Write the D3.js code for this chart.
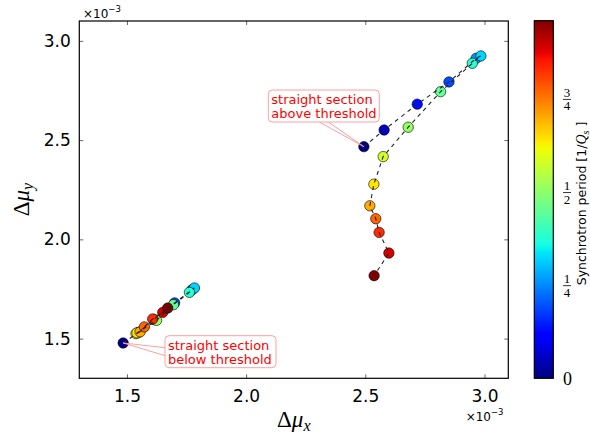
<!DOCTYPE html>
<html>
<head>
<meta charset="utf-8">
<script src="https://cdn.jsdelivr.net/npm/d3@7"></script>
<style>
  body { margin: 0; background: #fff; }
  svg { display: block; }
</style>
</head>
<body>
<svg id="chart" width="590" height="439"></svg>
<script>
// Synchrotron phase of each turn (in units of 1/Q_s), shared by both series
const phase = [0, 0.06, 0.13, 0.19, 0.26, 0.32, 0.38, 0.45, 0.51, 0.58, 0.64, 0.70, 0.77, 0.83, 0.89, 0.96];

// Straight section below threshold (Δμ in units of 1e-3)
const belowX = [1.484, 1.548, 1.612, 1.700, 1.772, 1.783, 1.762, 1.695, 1.624, 1.538, 1.542, 1.555, 1.573, 1.608, 1.650, 1.671];
const belowY = [1.478, 1.531, 1.596, 1.680, 1.745, 1.755, 1.733, 1.671, 1.592, 1.525, 1.529, 1.534, 1.559, 1.599, 1.632, 1.654];

// Straight section above threshold
const aboveX = [2.494, 2.579, 2.718, 2.851, 2.965, 2.985, 2.949, 2.816, 2.680, 2.575, 2.536, 2.519, 2.544, 2.558, 2.599, 2.537];
const aboveY = [2.467, 2.551, 2.681, 2.793, 2.912, 2.924, 2.887, 2.744, 2.565, 2.417, 2.278, 2.169, 2.104, 2.035, 1.931, 1.817];

const axisTicks = [1.5, 2.0, 2.5, 3.0];
const cbTicks = [0, 0.25, 0.5, 0.75];
const cbTickLabels = [["0"], ["1", "4"], ["1", "2"], ["3", "4"]];

const aboveText = ["straight section", "above threshold"];
const belowText = ["straight section", "below threshold"];

// ---------------------------------------------------------------
const svg = d3.select("#chart");
const plot = { left: 79.3, right: 508.3, top: 21, bottom: 378.3 };
const cb = { left: 534.3, right: 553.3, top: 20.7, bottom: 378.3 };
const sans = "'DejaVu Sans', sans-serif";
const serif = "'Liberation Serif', 'DejaVu Serif', serif";

const x = d3.scaleLinear().domain([1.3, 3.1]).range([plot.left, plot.right]);
const y = d3.scaleLinear().domain([1.3, 3.1]).range([plot.bottom, plot.top]);

// jet colour map, channel by channel
const jetR = d3.scaleLinear().domain([0, 0.35, 0.66, 0.89, 1]).range([0, 0, 1, 1, 0.5]).clamp(true);
const jetG = d3.scaleLinear().domain([0, 0.125, 0.375, 0.64, 0.91, 1]).range([0, 0, 1, 1, 0, 0]).clamp(true);
const jetB = d3.scaleLinear().domain([0, 0.11, 0.34, 0.65, 1]).range([0.5, 1, 1, 0, 0]).clamp(true);
const jet = t => d3.rgb(255 * jetR(t), 255 * jetG(t), 255 * jetB(t)).formatHex();

const vmax = d3.max(phase);
const norm = d3.scaleLinear().domain([0, vmax]).range([0, 1]);
const cbScale = d3.scaleLinear().domain([0, vmax]).range([cb.bottom, cb.top]);

// ---------------- axes frame and ticks ----------------
const gx = svg.append("g").attr("transform", `translate(0,${plot.bottom})`)
  .call(d3.axisBottom(x).tickValues(axisTicks).tickFormat(d3.format(".1f")).tickSize(-4).tickPadding(11.5));
const gy = svg.append("g").attr("transform", `translate(${plot.left},0)`)
  .call(d3.axisLeft(y).tickValues(axisTicks).tickFormat(d3.format(".1f")).tickSize(-4).tickPadding(8.6));
const gt = svg.append("g").attr("transform", `translate(0,${plot.top})`)
  .call(d3.axisTop(x).tickValues(axisTicks).tickFormat("").tickSize(-4));
const gr = svg.append("g").attr("transform", `translate(${plot.right},0)`)
  .call(d3.axisRight(y).tickValues(axisTicks).tickFormat("").tickSize(-4));
[gx, gy, gt, gr].forEach(g => {
  g.select(".domain").remove();
  g.selectAll(".tick line").attr("stroke", "#000").attr("stroke-width", 0.6);
  g.selectAll(".tick text").attr("fill", "#000").style("font-family", sans).style("font-size", "17px");
});

svg.append("rect")
  .attr("x", plot.left).attr("y", plot.top)
  .attr("width", plot.right - plot.left).attr("height", plot.bottom - plot.top)
  .attr("fill", "none").attr("stroke", "#000").attr("stroke-width", 1.2);

// offset labels (×10⁻³)
function offsetLabel(xp, yp, anchor) {
  const t = svg.append("text").attr("x", xp).attr("y", yp).attr("text-anchor", anchor)
    .style("font-family", sans).style("font-size", "12px").attr("fill", "#000");
  t.append("tspan").text("×10");
  t.append("tspan").attr("dy", -6).style("font-size", "8.5px").text("−3");
}
offsetLabel(83, 18.3, "start");
offsetLabel(503.5, 420.5, "end");

// axis titles
const xl = svg.append("text").attr("x", (plot.left + plot.right) / 2).attr("y", 427)
  .attr("text-anchor", "middle").style("font-family", serif).style("font-size", "23px").attr("fill", "#000");
xl.append("tspan").text("Δ");
xl.append("tspan").style("font-style", "italic").text("μ");
xl.append("tspan").style("font-style", "italic").style("font-size", "16px").attr("dy", 4).text("x");

const yl = svg.append("text").attr("transform", `translate(29,${(plot.top + plot.bottom) / 2}) rotate(-90)`)
  .attr("text-anchor", "middle").style("font-family", serif).style("font-size", "23px").attr("fill", "#000");
yl.append("tspan").text("Δ");
yl.append("tspan").style("font-style", "italic").text("μ");
yl.append("tspan").style("font-style", "italic").style("font-size", "16px").attr("dy", 4).text("y");

// ---------------- data ----------------
const series = [
  { name: "below", xs: belowX, ys: belowY },
  { name: "above", xs: aboveX, ys: aboveY }
];
svg.append("clipPath").attr("id", "plotclip").append("rect")
  .attr("x", plot.left).attr("y", plot.top)
  .attr("width", plot.right - plot.left).attr("height", plot.bottom - plot.top);

const dataG = svg.append("g").attr("clip-path", "url(#plotclip)");
const line = d3.line().x(d => x(d[0])).y(d => y(d[1]));

series.forEach(s => {
  const pts = s.xs.map((v, i) => [v, s.ys[i], phase[i]]);
  dataG.append("g").selectAll("circle").data(pts).join("circle")
    .attr("cx", d => x(d[0])).attr("cy", d => y(d[1])).attr("r", 5.2)
    .attr("fill", d => jet(norm(d[2])))
    .attr("stroke", "#000").attr("stroke-width", 0.6);
  dataG.append("path").datum(pts).attr("d", line)
    .attr("fill", "none").attr("stroke", "#222").attr("stroke-width", 1.1)
    .attr("stroke-dasharray", "4,4");
});

// ---------------- annotations ----------------
const pink = "#ffa0a0";
function annotate(lines, px, py, boxLeft, boxTop, side) {
  const w = 111, h = 32;
  let b1, b2;
  if (side === "bottom") {
    const cx = boxLeft + w / 2;
    b1 = [cx - 4.5, boxTop + h]; b2 = [cx + 4.5, boxTop + h];
  } else {
    const cy = boxTop + h / 2;
    b1 = [boxLeft, cy - 4]; b2 = [boxLeft, cy + 4];
  }
  svg.append("path")
    .attr("d", `M${b1[0]},${b1[1]}L${px},${py}L${b2[0]},${b2[1]}`)
    .attr("fill", "none").attr("stroke", pink).attr("stroke-width", 1);
  svg.append("rect").attr("x", boxLeft).attr("y", boxTop).attr("width", w).attr("height", h)
    .attr("rx", 4).attr("fill", "#fff").attr("stroke", pink).attr("stroke-width", 1);
  lines.forEach((l, i) => {
    svg.append("text").attr("x", boxLeft + 3).attr("y", boxTop + 14 + i * 14.2)
      .style("font-family", sans).style("font-size", "13px").attr("fill", "#ff0000").text(l);
  });
}
annotate(aboveText, x(aboveX[0]), y(aboveY[0]), 268.3, 90, "bottom");
annotate(belowText, x(belowX[0]), y(belowY[0]), 165, 335.7, "left");

// ---------------- colour bar ----------------
const breaks = [0, 0.11, 0.125, 0.34, 0.35, 0.375, 0.64, 0.65, 0.66, 0.89, 0.91, 1];
const grad = svg.append("defs").append("linearGradient").attr("id", "jetgrad")
  .attr("x1", 0).attr("y1", 1).attr("x2", 0).attr("y2", 0);
grad.selectAll("stop").data(breaks).join("stop")
  .attr("offset", d => d).attr("stop-color", d => jet(d));

svg.append("rect").attr("x", cb.left).attr("y", cb.top)
  .attr("width", cb.right - cb.left).attr("height", cb.bottom - cb.top)
  .attr("fill", "url(#jetgrad)").attr("stroke", "#000").attr("stroke-width", 1.2);

cbTicks.forEach((v, i) => {
  const ty = cbScale(v);
  const lab = cbTickLabels[i];
  if (lab.length === 1) {
    svg.append("text").attr("x", 563).attr("y", ty + 6.5)
      .style("font-family", serif).style("font-size", "18px").attr("fill", "#000").text(lab[0]);
  } else {
    svg.append("text").attr("x", 567).attr("y", ty - 2).attr("text-anchor", "middle")
      .style("font-family", serif).style("font-size", "13px").attr("fill", "#000").text(lab[0]);
    svg.append("line").attr("x1", 563).attr("x2", 571).attr("y1", ty + 0.5).attr("y2", ty + 0.5)
      .attr("stroke", "#000").attr("stroke-width", 0.8);
    svg.append("text").attr("x", 567).attr("y", ty + 11.5).attr("text-anchor", "middle")
      .style("font-family", serif).style("font-size", "13px").attr("fill", "#000").text(lab[1]);
  }
});

const cl = svg.append("text").attr("transform", `translate(586,${(cb.top + cb.bottom) / 2 + 4}) rotate(-90)`)
  .attr("text-anchor", "middle").style("font-family", sans).style("font-size", "12.5px").attr("fill", "#000");
cl.append("tspan").text("Synchrotron period [1/");
cl.append("tspan").style("font-family", serif).style("font-style", "italic").style("font-size", "14px").text("Q");
cl.append("tspan").style("font-family", serif).style("font-style", "italic").style("font-size", "10px").attr("dy", 3).text("s");
cl.append("tspan").attr("dy", -3).text(" ]");
</script>
</body>
</html>
